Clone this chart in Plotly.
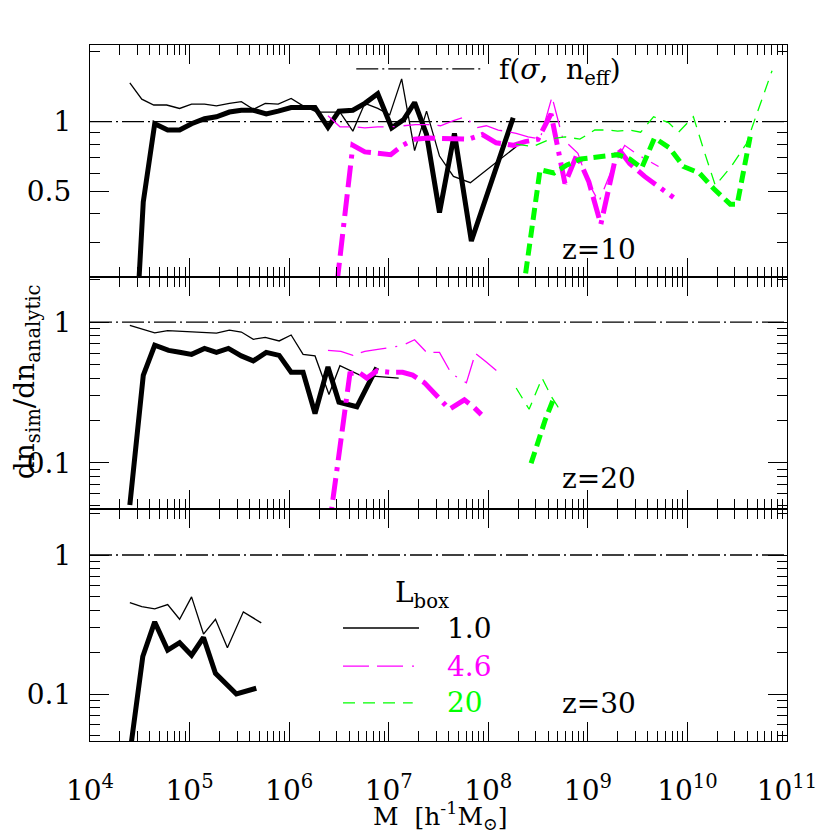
import numpy as np
import plotly.graph_objects as go
from plotly.subplots import make_subplots

# log10 of halo mass for each bin, ratio dn_sim/dn_analytic
# z = 10 panel
b_thin_10_m = [4.40, 4.52, 4.64, 4.77, 4.90, 5.02, 5.15, 5.27, 5.40, 5.52, 5.64, 5.76, 5.89, 6.02,
               6.14, 6.28, 6.51, 6.64, 6.76, 6.89, 7.01, 7.13, 7.26, 7.38, 7.51, 7.65, 7.82, 8.28]
b_thin_10_r = [1.47, 1.25, 1.18, 1.18, 1.14, 1.19, 1.19, 1.17, 1.20, 1.22, 1.13, 1.20, 1.19, 1.26,
               1.17, 1.10, 1.10, 0.91, 1.20, 1.14, 1.07, 1.53, 0.75, 1.11, 0.71, 0.58, 0.545, 0.78]
b_thick_10_m = [4.40, 4.535, 4.65, 4.78, 4.90, 5.02, 5.15, 5.27, 5.40, 5.52, 5.64, 5.77, 5.89, 6.02,
                6.14, 6.26, 6.39, 6.50, 6.64, 6.76, 6.89, 7.03, 7.15, 7.26, 7.38, 7.51, 7.66, 7.83, 8.25]
b_thick_10_r = [0.04, 0.45, 0.98, 0.92, 0.92, 0.98, 1.03, 1.05, 1.10, 1.12, 1.12, 1.08, 1.11, 1.15,
                1.15, 1.15, 0.945, 1.11, 1.12, 1.20, 1.32, 0.94, 1.02, 1.21, 0.88, 0.405, 0.89, 0.305, 1.04]
m_thin_10_m = [6.39, 6.51, 6.64, 6.76, 6.89, 7.03, 7.15, 7.27, 7.40, 7.52, 7.65, 7.77, 7.88, 7.98,
               8.10, 8.28, 8.40, 8.52, 8.64, 8.75, 8.90, 9.00, 9.11, 9.24, 9.37, 9.50, 9.71]
m_thin_10_r = [1.06, 0.95, 0.95, 0.94, 0.95, 0.95, 0.96, 0.97, 0.97, 0.96, 1.01, 1.05, 0.94, 0.96,
               0.92, 0.89, 0.86, 0.84, 1.28, 0.84, 0.73, 0.55, 0.45, 0.62, 0.79, 0.72, 0.64]
m_thick_10_m = [6.40, 6.64, 6.76, 6.89, 7.02, 7.14, 7.26, 7.40, 7.52, 7.66, 7.80, 7.94, 8.08, 8.25,
                8.37, 8.50, 8.63, 8.77, 8.89, 9.01, 9.13, 9.30, 9.42, 9.57, 9.86]
m_thick_10_r = [0.10, 0.79, 0.74, 0.73, 0.72, 0.79, 0.84, 0.85, 0.85, 0.85, 0.84, 0.88, 0.81, 0.79,
                0.82, 0.84, 1.08, 0.54, 0.72, 0.55, 0.36, 0.77, 0.66, 0.58, 0.47]
g_thin_10_m = [8.28, 8.45, 8.62, 8.77, 8.92, 9.07, 9.20, 9.30, 9.42, 9.53, 9.66, 9.81, 9.91, 10.06,
               10.17, 10.28, 10.44, 10.59, 10.85]
g_thin_10_r = [0.80, 0.78, 0.84, 0.86, 0.84, 0.92, 0.92, 0.91, 0.92, 0.90, 1.05, 0.99, 0.90, 1.05,
               0.74, 0.53, 0.64, 0.80, 1.66]
g_thick_10_m = [8.30, 8.52, 8.66, 8.79, 8.93, 9.05, 9.17, 9.30, 9.42, 9.54, 9.67, 9.82, 9.96, 10.12,
                10.27, 10.43, 10.50, 10.63]
g_thick_10_r = [0.13, 0.62, 0.60, 0.65, 0.69, 0.70, 0.71, 0.72, 0.69, 0.63, 0.85, 0.77, 0.64, 0.60,
                0.51, 0.44, 0.44, 0.86]

# z = 20 panel
b_thin_20_m = [4.40, 4.65, 4.78, 4.90, 5.02, 5.15, 5.27, 5.40, 5.52, 5.64, 5.76, 5.90, 6.02, 6.14,
               6.26, 6.40, 6.51, 6.71, 7.10]
b_thin_20_r = [0.95, 0.84, 0.87, 0.86, 0.86, 0.85, 0.835, 0.877, 0.85, 0.755, 0.78, 0.735, 0.81, 0.59,
               0.575, 0.306, 0.49, 0.42, 0.40]
b_thick_20_m = [4.40, 4.535, 4.65, 4.79, 4.90, 5.02, 5.15, 5.27, 5.39, 5.52, 5.64, 5.77, 5.90, 6.02,
                6.14, 6.26, 6.39, 6.50, 6.68, 6.88]
b_thick_20_r = [0.050, 0.418, 0.685, 0.63, 0.61, 0.59, 0.65, 0.61, 0.65, 0.575, 0.53, 0.61, 0.58, 0.44,
                0.44, 0.224, 0.48, 0.27, 0.25, 0.475]
m_thin_20_m = [6.39, 6.52, 6.64, 6.76, 6.89, 7.01, 7.13, 7.26, 7.38, 7.51, 7.63, 7.78, 7.87, 7.98, 8.12]
m_thin_20_r = [0.63, 0.62, 0.58, 0.62, 0.64, 0.66, 0.68, 0.75, 0.61, 0.61, 0.43, 0.37, 0.60, 0.52, 0.43]
m_thick_20_m = [6.40, 6.61, 6.70, 6.78, 6.88, 7.01, 7.14, 7.24, 7.36, 7.48, 7.61, 7.76, 7.85, 7.93]
m_thick_20_r = [0.034, 0.43, 0.44, 0.40, 0.45, 0.44, 0.44, 0.42, 0.37, 0.30, 0.24, 0.28, 0.25, 0.22]
g_thin_20_m = [8.28, 8.41, 8.54, 8.64, 8.70, 8.77]
g_thin_20_r = [0.34, 0.24, 0.40, 0.29, 0.25, 0.27]
g_thick_20_m = [8.43, 8.57, 8.66]
g_thick_20_r = [0.099, 0.20, 0.29]

# z = 30 panel
b_thin_30_m = [4.40, 4.52, 4.65, 4.78, 4.90, 5.02, 5.14, 5.26, 5.38, 5.54, 5.72]
b_thin_30_r = [0.454, 0.425, 0.41, 0.44, 0.345, 0.50, 0.27, 0.345, 0.215, 0.39, 0.325]
b_thick_30_m = [4.40, 4.53, 4.65, 4.78, 4.90, 5.02, 5.14, 5.26, 5.47, 5.67]
b_thick_30_r = [0.037, 0.186, 0.33, 0.207, 0.234, 0.19, 0.255, 0.141, 0.10, 0.11]

redshift_labels = ["z=10", "z=20", "z=30"]
lbox_labels = ["1.0", "4.6", "20"]
x_ticks = [1e4, 1e5, 1e6, 1e7, 1e8, 1e9, 1e10, 1e11]
x_ticktext = ["10<sup>%d</sup>" % k for k in range(4, 12)]

FONT = "DejaVu Serif"
MAG = "#ff00ff"
GRN = "#00ff00"
STY = {
    "b_thin": dict(color="black", width=1.3),
    "b_thick": dict(color="black", width=5),
    "m_thin": dict(color=MAG, width=1.3, dash="26px,8px,26px,9px,2px,9px"),
    "m_thick": dict(color=MAG, width=5, dash="22px,7px,22px,7px,4px,7px"),
    "g_thin": dict(color=GRN, width=1.3, dash="12px,8px"),
    "g_thick": dict(color=GRN, width=5, dash="12px,6px"),
}
REF_DASH = "22px,4px,2px,4px"

panels = [
    [("b_thin", b_thin_10_m, b_thin_10_r), ("b_thick", b_thick_10_m, b_thick_10_r),
     ("m_thin", m_thin_10_m, m_thin_10_r), ("m_thick", m_thick_10_m, m_thick_10_r),
     ("g_thin", g_thin_10_m, g_thin_10_r), ("g_thick", g_thick_10_m, g_thick_10_r)],
    [("b_thin", b_thin_20_m, b_thin_20_r), ("b_thick", b_thick_20_m, b_thick_20_r),
     ("m_thin", m_thin_20_m, m_thin_20_r), ("m_thick", m_thick_20_m, m_thick_20_r),
     ("g_thin", g_thin_20_m, g_thin_20_r), ("g_thick", g_thick_20_m, g_thick_20_r)],
    [("b_thin", b_thin_30_m, b_thin_30_r), ("b_thick", b_thick_30_m, b_thick_30_r)],
]

fig = make_subplots(rows=3, cols=1, shared_xaxes=True, vertical_spacing=0)

for row, series in enumerate(panels, start=1):
    # analytic reference, ratio = 1
    fig.add_trace(go.Scatter(x=[1e4, 1e11], y=[1, 1], mode="lines",
                             line=dict(color="black", width=1.4, dash=REF_DASH),
                             showlegend=False, hoverinfo="skip"), row=row, col=1)
    for key, logm, ratio in series:
        fig.add_trace(go.Scatter(x=10 ** np.array(logm), y=ratio, mode="lines",
                                 line=STY[key], showlegend=False), row=row, col=1)

axis_common = dict(showline=True, linecolor="black", linewidth=1.3, mirror="ticks",
                   ticks="inside", ticklen=19, tickwidth=1.2, tickcolor="black",
                   showgrid=False, zeroline=False,
                   tickfont=dict(family=FONT, size=28, color="black"),
                   minor=dict(ticks="inside", ticklen=10, tickwidth=1.2,
                              tickcolor="black", dtick="D1", showgrid=False))

for row in (1, 2, 3):
    fig.update_xaxes(type="log", range=[4, 11], tickvals=x_ticks, ticktext=x_ticktext,
                     showticklabels=(row == 3), ticklabelstandoff=24,
                     row=row, col=1, **axis_common)

fig.update_yaxes(type="log", range=[-0.671, 0.331], tickvals=[0.5, 1], ticktext=["0.5", "1"],
                 ticklabelstandoff=12, row=1, col=1, **axis_common)
fig.update_yaxes(type="log", range=[-1.329, 0.321], tickvals=[0.1, 1], ticktext=["0.1", "1"],
                 ticklabelstandoff=12, row=2, col=1, **axis_common)
fig.update_yaxes(type="log", range=[-1.338, 0.331], tickvals=[0.1, 1], ticktext=["0.1", "1"],
                 ticklabelstandoff=12, row=3, col=1, **axis_common)

txt = dict(family=FONT, size=28, color="black")

# redshift labels
for row, (lab, yy) in enumerate(zip(redshift_labels, [0.12, 0.13, 0.16]), start=1):
    yref = "y domain" if row == 1 else "y%d domain" % row
    xref = "x domain" if row == 1 else "x%d domain" % row
    fig.add_annotation(text=lab, x=0.73, y=yy, xref=xref, yref=yref, showarrow=False,
                       xanchor="center", yanchor="middle", font=txt)

# top panel key for the analytic curve
fig.add_shape(type="line", xref="x domain", yref="y domain", x0=0.382, x1=0.564, y0=0.897, y1=0.897,
              line=dict(color="black", width=1.4, dash=REF_DASH))
fig.add_annotation(text="f(<i>σ</i>,  n<sub>eff</sub>)", x=0.584, y=0.885, xref="x domain",
                   yref="y domain", showarrow=False, xanchor="left", yanchor="middle", font=txt)

# bottom panel legend for box sizes
fig.add_annotation(text="L<sub>box</sub>", x=0.476, y=0.63, xref="x3 domain", yref="y3 domain",
                   showarrow=False, xanchor="center", yanchor="middle", font=txt)
key_rows = [("b_thin", "black", 0.487, 0.472), ("m_thin", MAG, 0.323, 0.472), ("g_thin", GRN, 0.164, 0.463)]
for (key, col, yy, x1), lab in zip(key_rows, lbox_labels):
    st = STY[key]
    fig.add_shape(type="line", xref="x3 domain", yref="y3 domain", x0=0.363, x1=x1, y0=yy, y1=yy,
                  line=dict(color=col, width=st["width"], dash=st.get("dash", "solid")))
    fig.add_annotation(text=lab, x=0.51, y=yy, xref="x3 domain", yref="y3 domain", showarrow=False,
                       xanchor="left", yanchor="middle", font=dict(family=FONT, size=28, color=col))

# axis titles
fig.add_annotation(text="dn<sub>sim</sub>/dn<sub>analytic</sub>", x=-0.09, y=0.516, xref="paper",
                   yref="paper", textangle=-90, showarrow=False, xanchor="center", yanchor="middle",
                   font=txt)
fig.add_annotation(text="M  [h<sup>-1</sup>M<sub>⊙</sub>]", x=0.502, y=-0.108, xref="paper",
                   yref="paper", showarrow=False, xanchor="center", yanchor="middle",
                   font=dict(family=FONT, size=25, color="black"))

# the page body adds an 8px offset, so margins are trimmed to keep the frame in place
fig.update_layout(width=830, height=830, margin=dict(l=82, r=51, t=37, b=97),
                  plot_bgcolor="white", paper_bgcolor="white", showlegend=False,
                  font=dict(family=FONT, color="black"))

fig.write_html("out.html")
